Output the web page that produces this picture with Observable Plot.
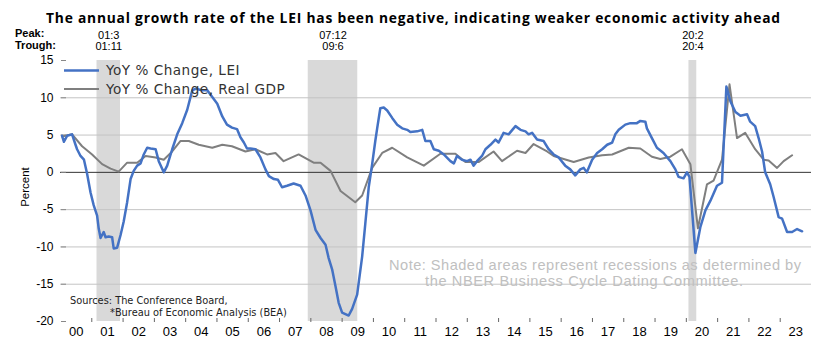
<!DOCTYPE html>
<html><head><meta charset="utf-8">
<script src="https://cdn.jsdelivr.net/npm/d3@7"></script>
<script src="https://cdn.jsdelivr.net/npm/@observablehq/plot@0.6"></script>
<style>body{margin:0;background:#fff} svg{display:block}</style>
</head><body><div id="chart"></div>
<script>
// ---- data (decimal years) ----
const leiX = [2000.05,2000.11,2000.21,2000.37,2000.48,2000.53,2000.64,2000.75,2000.85,2000.96,
2001.06,2001.17,2001.22,2001.28,2001.38,2001.44,2001.54,2001.65,2001.70,2001.81,2001.92,
2002.02,2002.13,2002.24,2002.34,2002.45,2002.56,2002.66,2002.77,2002.88,
2003.04,2003.14,2003.30,2003.41,2003.57,2003.73,2003.89,
2004.05,2004.21,2004.31,2004.53,2004.69,2004.85,
2005.01,2005.17,2005.32,2005.48,2005.64,2005.75,2005.86,2005.96,
2006.07,2006.23,2006.39,2006.55,2006.66,2006.82,2006.95,
2007.08,2007.24,2007.45,2007.67,2007.83,2007.99,
2008.15,2008.31,2008.47,2008.57,2008.68,2008.79,2008.89,
2009.00,2009.21,2009.32,2009.48,2009.64,2009.74,2009.85,2009.96,
2010.06,2010.12,2010.22,2010.33,2010.44,2010.60,2010.76,2010.92,
2011.08,2011.18,2011.40,2011.56,2011.66,2011.82,2011.93,
2012.09,2012.25,2012.46,2012.57,2012.67,2012.83,2012.99,
2013.10,2013.20,2013.31,2013.47,2013.58,2013.74,2013.90,
2014.00,2014.16,2014.32,2014.54,2014.70,2014.86,2014.96,
2015.07,2015.23,2015.44,2015.60,2015.76,2015.92,
2016.13,2016.29,2016.45,2016.61,2016.72,2016.82,2016.99,
2017.15,2017.31,2017.47,2017.63,2017.73,2017.84,
2018.05,2018.21,2018.42,2018.53,2018.69,2018.74,2018.90,
2019.06,2019.27,2019.49,2019.65,2019.75,2019.91,
2020.02,2020.10,2020.29,2020.45,2020.61,2020.77,2020.98,
2021.14,2021.19,2021.28,2021.41,2021.57,2021.73,2021.94,
2022.04,2022.20,2022.31,2022.42,2022.52,2022.68,2022.79,2022.95,
2023.06,2023.22,2023.38,2023.54,2023.70];
const leiY = [4.9,4.1,4.9,5.1,3.7,3.1,2.2,1.7,-0.2,-2.7,
-4.4,-5.8,-7.5,-8.8,-8.0,-8.7,-8.6,-8.7,-10.2,-10.1,-8.4,
-6.6,-4.0,-0.9,0.2,0.9,1.2,2.4,3.3,3.2,
3.1,1.5,0.0,0.9,3.1,5.1,6.6,
8.4,11.0,11.2,11.0,11.0,10.1,
9.2,7.5,6.4,6.0,5.8,4.7,4.0,3.2,
3.2,3.1,2.0,0.4,-0.5,-0.9,-1.0,
-2.0,-1.8,-1.5,-1.8,-3.1,-5.1,
-7.7,-8.8,-9.7,-11.5,-13.0,-15.3,-17.5,
-18.8,-19.2,-18.3,-16.4,-11.3,-6.9,-2.0,1.1,
4.2,5.9,8.6,8.7,8.3,7.3,6.4,5.9,
5.7,5.4,5.5,5.7,4.2,4.2,3.1,
2.9,2.4,1.5,1.2,2.2,1.7,1.5,
1.7,0.9,1.5,2.2,3.1,3.7,4.4,
4.0,5.3,5.1,6.2,5.7,5.5,5.1,
5.3,4.4,4.2,3.1,2.4,2.0,
0.9,0.4,-0.4,0.4,0.6,0.0,1.7,
2.6,3.1,3.7,4.0,5.1,5.7,
6.4,6.6,6.6,6.9,6.8,5.9,4.6,
3.3,2.6,1.5,0.4,-0.6,-0.8,
0.0,-0.6,-10.8,-7.3,-5.1,-3.8,-1.8,
-1.4,3.3,11.5,9.5,8.1,7.6,7.8,
6.8,6.2,4.6,2.8,0.0,-1.6,-3.3,-6.0,
-6.2,-8.0,-8.0,-7.6,-7.9];

const gdpX = [2000.05,2000.37,2000.69,2001.01,2001.33,2001.60,2001.86,2002.13,2002.45,2002.72,
2003.04,2003.30,2003.57,2003.83,2004.10,2004.42,2004.85,2005.17,2005.48,2005.91,
2006.23,2006.60,2006.87,2007.13,2007.61,2008.09,2008.31,2008.63,2008.95,2009.42,2009.64,2009.96,
2010.28,2010.60,2011.08,2011.61,2012.14,2012.62,2012.94,2013.37,2013.84,2014.11,2014.59,2014.86,
2015.12,2015.55,2015.76,2016.40,2016.88,2017.31,2017.63,2018.16,2018.53,2018.90,2019.17,2019.49,2019.86,
2020.13,2020.37,2020.66,2020.87,2021.14,2021.38,2021.62,2021.88,2022.20,2022.47,2022.63,2022.90,2023.11,2023.38];
const gdpY = [4.8,5.1,3.5,2.4,1.1,0.5,0.1,1.3,1.3,2.2,
2.0,1.7,2.8,4.2,4.2,3.7,3.3,3.7,3.5,2.8,
3.1,2.4,2.6,1.5,2.4,1.3,1.3,0.2,-2.5,-4.0,-3.1,0.6,
2.6,3.3,2.0,0.9,2.5,2.5,1.4,1.4,2.8,1.5,2.9,2.6,
3.8,2.8,2.2,1.4,2.0,2.3,2.4,3.3,3.2,2.1,1.8,2.1,3.1,
1.1,-7.5,-1.6,-1.1,1.7,11.8,4.6,5.3,3.1,1.7,1.6,0.6,1.5,2.3];

const recStart = [2001 + 2/12, 2007 + 11/12, 2020 + 1/12];
const recEnd   = [2001 + 11/12, 2009 + 6/12, 2020 + 4/12];
const peakLabels   = ["01:3", "07:12", "20:2"];
const troughLabels = ["01:11", "09:6", "20:4"];

const yTicks = [15, 10, 5, 0, -5, -10, -15, -20];
const gridTicks = [10, 5, -5, -10, -15];
const years = d3.range(2000, 2024);
const yearTicks = d3.range(2001, 2024);

const titleText = "The annual growth rate of the LEI has been negative, indicating weaker economic activity ahead";
const seriesNames = ["YoY % Change, LEI", "YoY % Change, Real GDP"];
const noteLines = ["Note: Shaded areas represent recessions as determined by", "the NBER Business Cycle Dating Committee."];
const sourceLines = ["Sources: The Conference Board,", "*Bureau of Economic Analysis (BEA)"];

const LEI_COLOR = "#4472C4", GDP_COLOR = "#7f7f7f";

const lei = leiX.map((x, i) => ({x, y: leiY[i]}));
const gdp = gdpX.map((x, i) => ({x, y: gdpY[i]}));
const rec = recStart.map((s, i) => ({start: s, end: recEnd[i], mid: (s + recEnd[i]) / 2, peak: peakLabels[i], trough: troughLabels[i]}));

const svg = Plot.plot({
  width: 834, height: 362,
  marginLeft: 60, marginRight: 23, marginTop: 60, marginBottom: 41,
  style: {fontFamily: "'Liberation Sans', Arial, sans-serif", fontSize: "12px", color: "#000", background: "#fff"},
  x: {domain: [2000, 2024], axis: null},
  y: {domain: [-20, 15], axis: null},
  marks: [
    Plot.rect(rec, {x1: "start", x2: "end", fill: "#d9d9d9"}),
    Plot.ruleY(gridTicks, {stroke: "#c4c4c4", strokeWidth: 1}),
    Plot.ruleY([0], {stroke: "#333", strokeWidth: 1}),
    Plot.ruleY(yTicks, {x1: 2000, x2: 2000, insetLeft: 1, insetRight: -6, stroke: "#888", strokeWidth: 1}),
    Plot.axisY(yTicks, {anchor: "left", tickSize: 0, tickPadding: 7, tickFormat: d => String(d), fontSize: 12, label: null}),
    Plot.ruleX(yearTicks, {y1: -20, y2: -20, insetTop: -3, insetBottom: -1, stroke: "#666"}),
    Plot.axisX(years.map(d => d + 0.5), {anchor: "bottom", tickSize: 0, tickPadding: 5, fontSize: 13,
      tickFormat: d => String(Math.floor(d) % 100).padStart(2, "0"), label: null}),
    Plot.line(gdp, {x: "x", y: "y", stroke: GDP_COLOR, strokeWidth: 2}),
    Plot.line(lei, {x: "x", y: "y", stroke: LEI_COLOR, strokeWidth: 2.5}),
    Plot.text(rec, {x: "mid", text: "peak", frameAnchor: "top", dy: -29, fontSize: 11}),
    Plot.text(rec, {x: "mid", text: "trough", frameAnchor: "top", dy: -18, fontSize: 11})
  ]
});

const s = d3.select(svg);
s.append("text").attr("x", 46).attr("y", 23).attr("text-anchor", "start")
  .attr("font-family", "'Open Sans', Lato, sans-serif").attr("font-weight", "bold").attr("font-size", 13.8)
  .attr("textLength", 734).attr("lengthAdjust", "spacing")
  .attr("fill", "#000").text(titleText);
s.append("text").attr("x", 15).attr("y", 36.5).attr("text-anchor", "start").attr("font-weight", "bold").attr("font-size", 11).text("Peak:");
s.append("text").attr("x", 15).attr("y", 48.5).attr("text-anchor", "start").attr("font-weight", "bold").attr("font-size", 11).text("Trough:");
s.append("text").attr("transform", "translate(29,187) rotate(-90)").attr("text-anchor", "middle")
  .attr("font-size", 11.5).text("Percent");

// legend
const legend = [{c: LEI_COLOR, w: 2.5, y: 70.5}, {c: GDP_COLOR, w: 2, y: 89}];
legend.forEach((l, i) => {
  s.append("line").attr("x1", 64).attr("x2", 99).attr("y1", l.y).attr("y2", l.y)
    .attr("stroke", l.c).attr("stroke-width", l.w);
  s.append("text").attr("x", 106).attr("y", l.y + 4.5).attr("text-anchor", "start")
    .attr("font-family", "'DejaVu Sans', Verdana, sans-serif").attr("letter-spacing", 0.5)
    .attr("font-size", 13.6).attr("fill", "#333").text(seriesNames[i]);
});

// note
const noteX = [389, 425], noteW = [412, 318];
noteLines.forEach((t, i) => {
  s.append("text").attr("x", noteX[i]).attr("y", 270 + i * 15.5).attr("text-anchor", "start")
    .attr("textLength", noteW[i]).attr("lengthAdjust", "spacing")
    .attr("font-size", 14.6).attr("fill", "#c0c0c0").text(t);
});
// sources
sourceLines.forEach((t, i) => {
  s.append("text").attr("x", i === 0 ? 70 : 110).attr("y", 304 + i * 12).attr("text-anchor", "start")
    .attr("font-family", "'DejaVu Sans', Verdana, sans-serif").attr("font-size", 9.8).attr("fill", "#222").text(t);
});

document.getElementById("chart").appendChild(svg);
</script>
</body></html>
